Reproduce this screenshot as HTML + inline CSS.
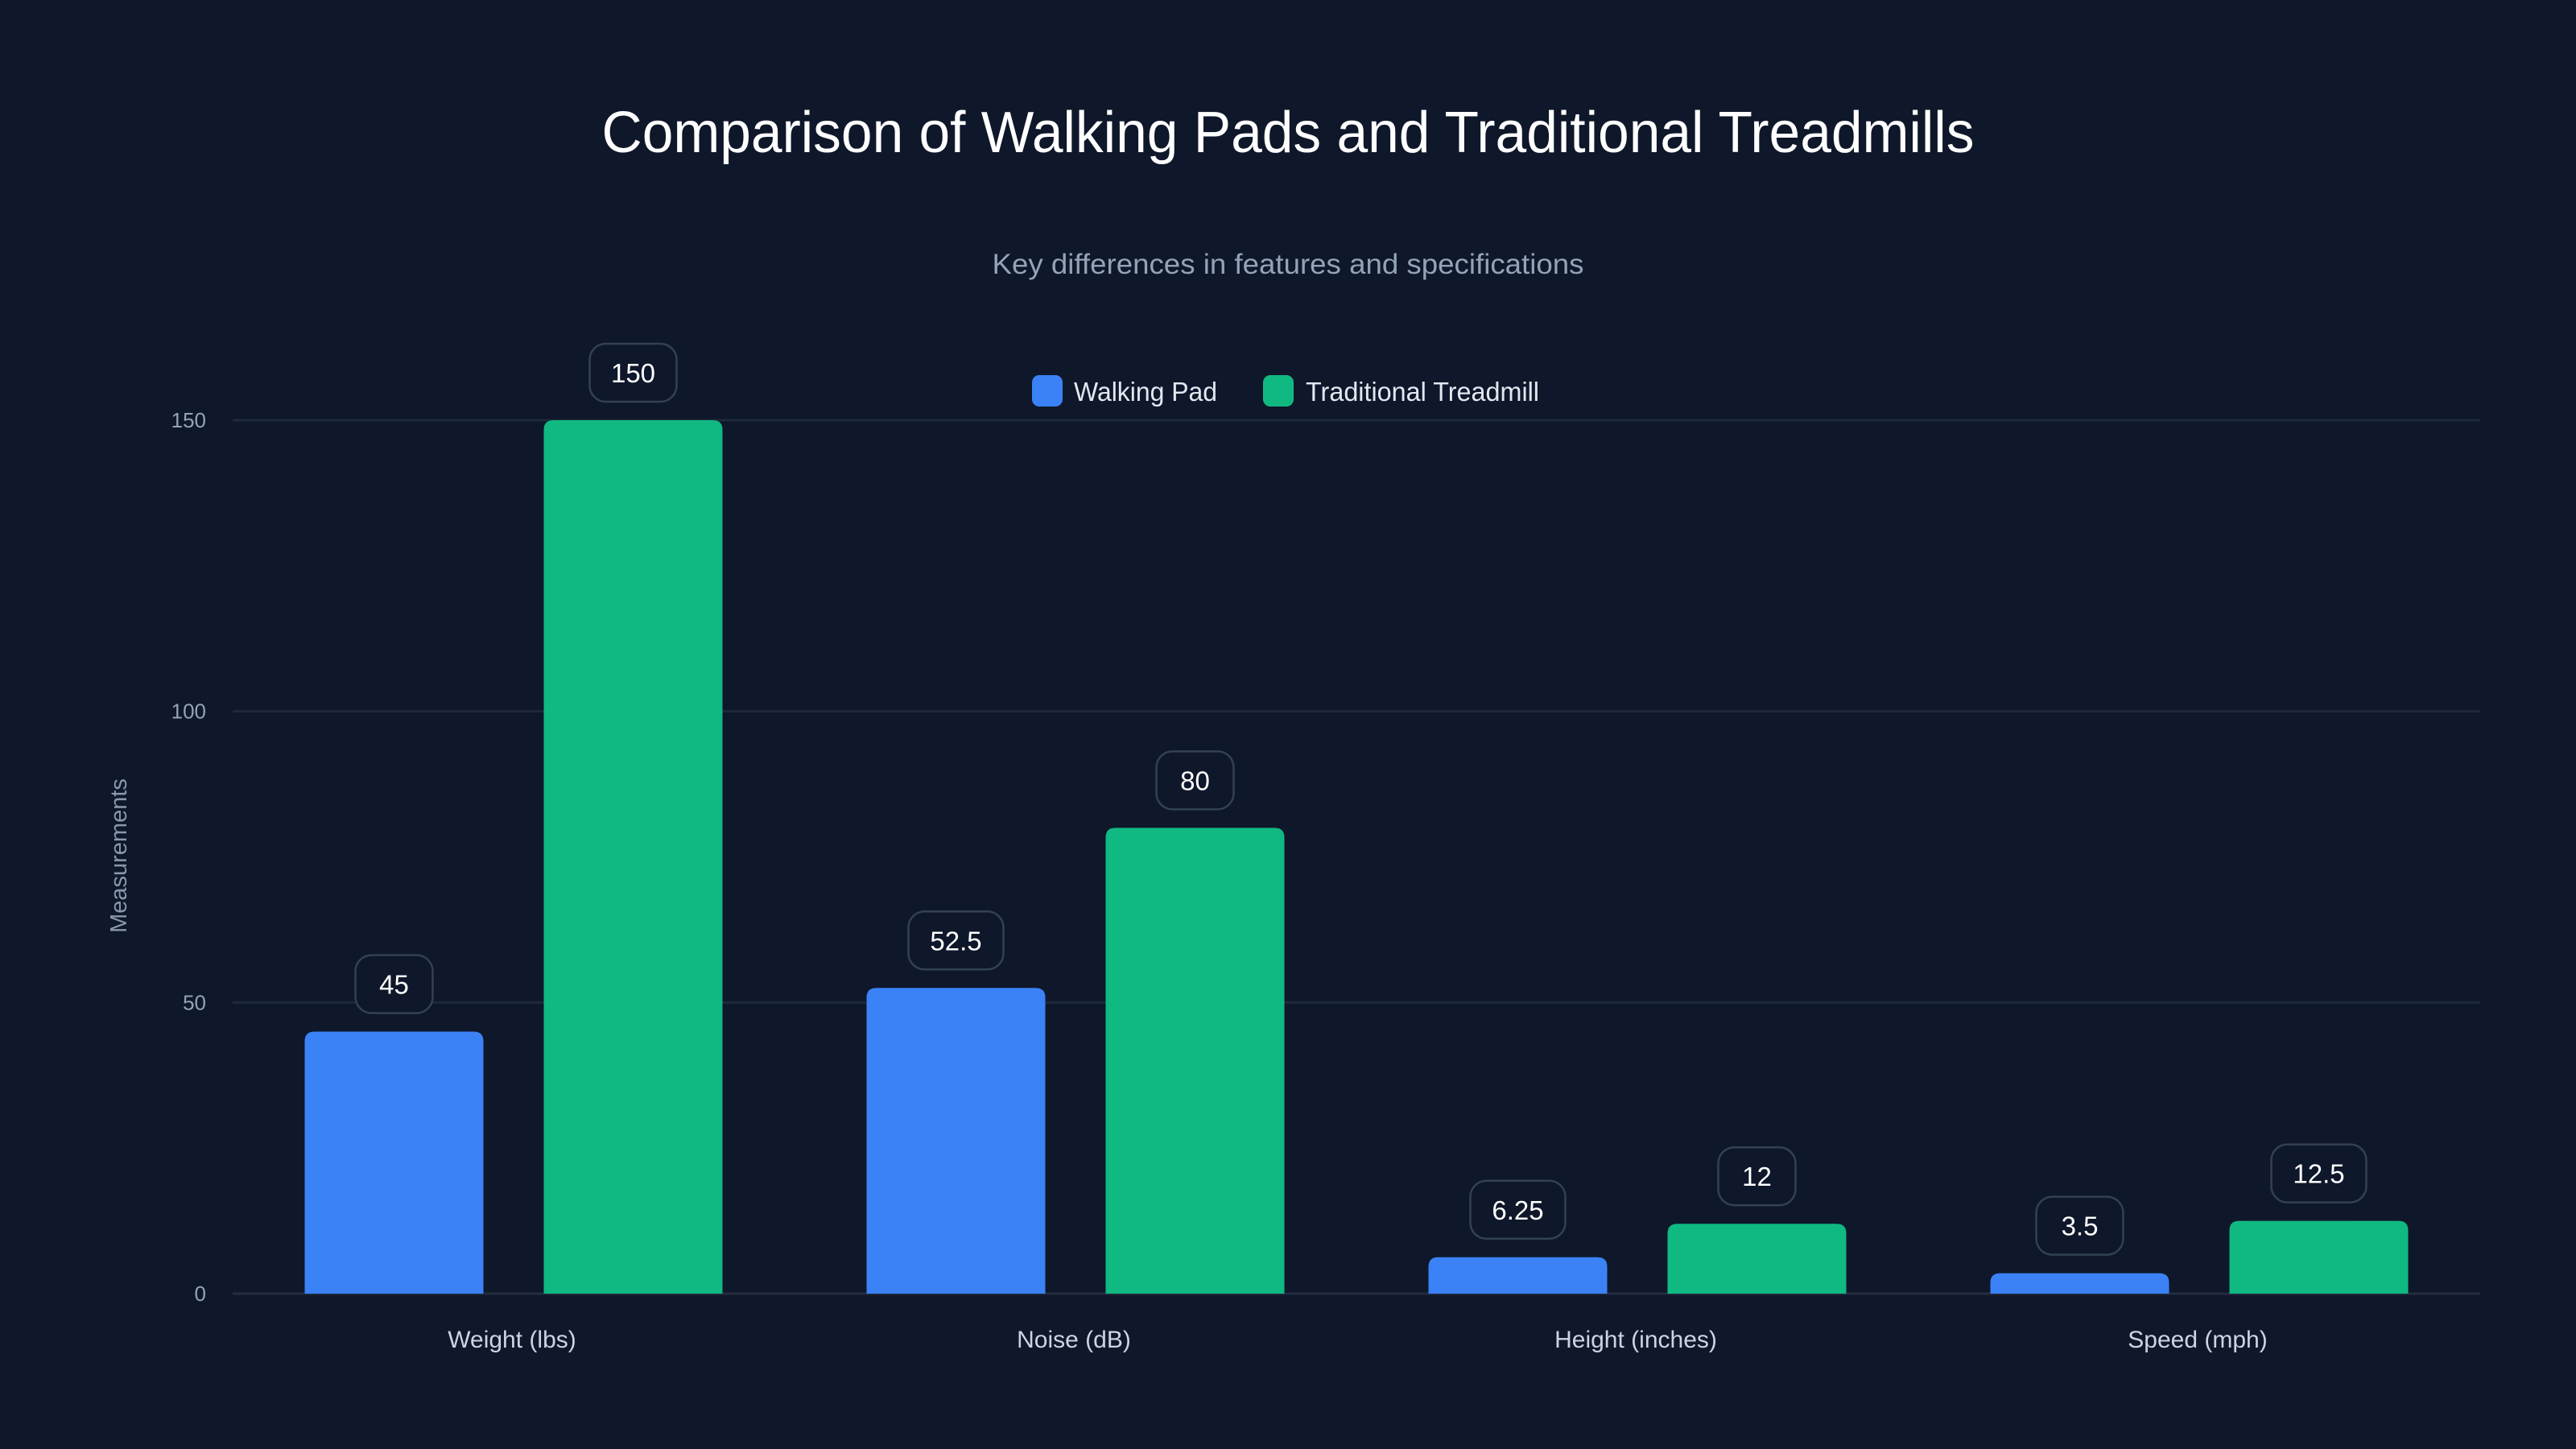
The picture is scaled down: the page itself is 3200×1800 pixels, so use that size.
<!DOCTYPE html>
<html><head><meta charset="utf-8"><style>
html,body{margin:0;padding:0;background:#0f172a;}
svg{display:block;font-family:"Liberation Sans",sans-serif;}
</style></head><body>
<svg id="chart" width="3200" height="1800" viewBox="0 0 3200 1800" xmlns="http://www.w3.org/2000/svg">
<rect width="3200" height="1800" fill="#0f172a"/>
<text x="1600" y="189" text-anchor="middle" font-size="72" fill="#ffffff" textLength="1705" lengthAdjust="spacingAndGlyphs">Comparison of Walking Pads and Traditional Treadmills</text>
<text x="1600" y="340" text-anchor="middle" font-size="35" fill="#94a3b8" textLength="735" lengthAdjust="spacingAndGlyphs">Key differences in features and specifications</text>
<g>
<g>
<rect x="1282" y="466" width="38" height="39" rx="9" fill="#3b82f6"/>
<text x="1334" y="498" font-size="33" fill="#e2e8f0" textLength="178" lengthAdjust="spacingAndGlyphs">Walking Pad</text>
</g>
<g>
<rect x="1569" y="466" width="38" height="39" rx="9" fill="#10b981"/>
<text x="1622" y="498" font-size="33" fill="#e2e8f0" textLength="290" lengthAdjust="spacingAndGlyphs">Traditional Treadmill</text>
</g>
</g>
<text transform="translate(157,1063) rotate(-90)" text-anchor="middle" font-size="29" fill="#8a97ad">Measurements</text>
<g id="grid"></g>
<g id="bars"></g>
<g id="labels"></g>
</svg>
<script>
const categories = ["Weight (lbs)", "Noise (dB)", "Height (inches)", "Speed (mph)"];
const walkingPad = [45, 52.5, 6.25, 3.5];
const treadmill = [150, 80, 12, 12.5];
const walkingPadLabels = ["45", "52.5", "6.25", "3.5"];
const treadmillLabels = ["150", "80", "12", "12.5"];
const yTicks = [0, 50, 100, 150];

const NS = "http://www.w3.org/2000/svg";
const left = 289, right = 3081, y0px = 1607, y150px = 522;
const yMax = 150;
function yScale(v){ return y0px - (v / yMax) * (y0px - y150px); }
const band = (right - left) / categories.length;
function xCenter(i){ return left + band * (i + 0.5); }
const barW = 222, offset = 148.5;

function mk(tag, attrs, parent){
  const e = document.createElementNS(NS, tag);
  for (const k in attrs) e.setAttribute(k, attrs[k]);
  parent.appendChild(e);
  return e;
}
const grid = document.getElementById("grid");
const bars = document.getElementById("bars");
const labels = document.getElementById("labels");

yTicks.forEach(t => {
  const y = yScale(t);
  const l = mk("line", {x1: left, x2: right, y1: y, y2: y, stroke: t === 0 ? "#232d40" : "#1e293b", "stroke-width": 3}, grid);
  
  
  const tx = mk("text", {x: 256, y: y + 9, "text-anchor": "end", "font-size": 26, fill: "#94a3b8"}, grid);
  tx.textContent = t;
  
  
});

function barPath(x, y, w, h, r){
  r = Math.min(r, h, w / 2);
  return `M${x},${y+h} L${x},${y+r} Q${x},${y} ${x+r},${y} L${x+w-r},${y} Q${x+w},${y} ${x+w},${y+r} L${x+w},${y+h} Z`;
}

function boxWidth(s){
  return s.length <= 2 ? 96 : (s.length === 3 ? 108 : 118);
}

function drawSeries(vals, texts, dx, color, name){
  vals.forEach((v, i) => {
    const cx = xCenter(i) + dx;
    const top = yScale(v);
    const b = mk("path", {d: barPath(cx - barW/2, top, barW, y0px - top, 12), fill: color}, bars);
    
    
    const bw = boxWidth(texts[i]);
    const box = mk("rect", {x: cx - bw/2, y: top - 23 - 72, width: bw, height: 72, rx: 20, fill: "#0f172a", stroke: "#334155", "stroke-width": 2.5}, labels);
    
    
    const t = mk("text", {x: cx, y: top - 23 - 36 + 12, "text-anchor": "middle", "font-size": 33, fill: "#ffffff"}, labels);
    t.textContent = texts[i];
    
    
  });
}
drawSeries(walkingPad, walkingPadLabels, -offset, "#3b82f6", "walking-pad");
drawSeries(treadmill, treadmillLabels, offset, "#10b981", "treadmill");

categories.forEach((c, i) => {
  const t = mk("text", {x: xCenter(i) - 2, y: 1674, "text-anchor": "middle", "font-size": 30, fill: "#cbd5e1"}, labels);
  t.textContent = c;
  
  
});
</script>
</body></html>
